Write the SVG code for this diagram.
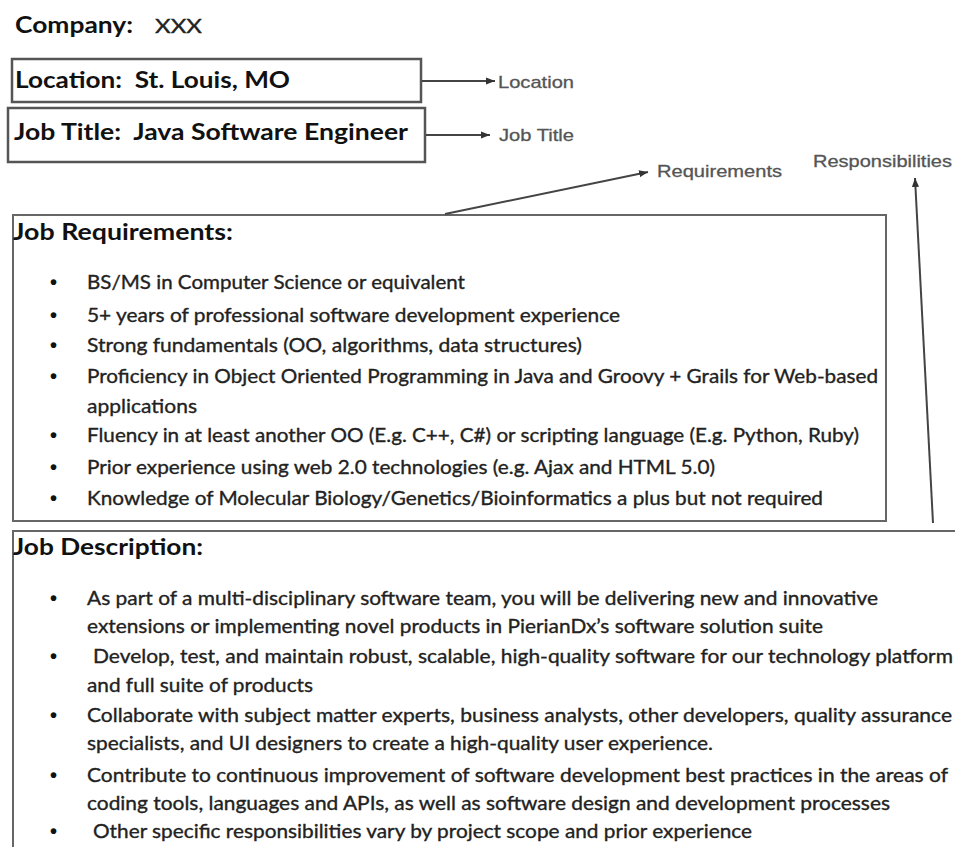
<svg xmlns="http://www.w3.org/2000/svg" width="955" height="847" viewBox="0 0 955 847">
<defs>
<marker id="ah" viewBox="0 0 10 10" refX="10" refY="5" markerWidth="9" markerHeight="9" markerUnits="userSpaceOnUse" orient="auto">
<path d="M0,1 L10,5 L0,9 Z" fill="#333"/>
</marker>
<style>
.box{fill:#fff;stroke:#555;stroke-width:2.5}
.box2{fill:#fff;stroke:#666;stroke-width:2}
.hb{font-family:Lato,"Open Sans","Liberation Sans",sans-serif;font-weight:bold;fill:#111;font-size:22px}
.bd{font-family:Lato,"Open Sans","Liberation Sans",sans-serif;fill:#222;stroke:#222;stroke-width:0.35;font-size:20px}
.bul{font-family:"Liberation Sans",sans-serif;fill:#111;font-weight:bold;font-size:20px}
.lbl{font-family:"Liberation Sans",Arial,sans-serif;fill:#555;stroke:#555;stroke-width:0.3;font-size:17px}
.cn{stroke:#444;stroke-width:2;fill:none;marker-end:url(#ah)}
</style>
</defs>
<rect width="955" height="847" fill="#fff"/>

<g id="company">
<text class="hb" x="15" y="33" textLength="118" lengthAdjust="spacingAndGlyphs">Company:</text>
<text class="bd" x="155" y="33" font-size="22" fill="#333" textLength="47" lengthAdjust="spacingAndGlyphs">XXX</text>
</g>

<g id="location">
<rect class="box" x="12" y="59" width="409" height="43"/>
<text class="hb" x="15" y="88" textLength="275" lengthAdjust="spacingAndGlyphs" xml:space="preserve">Location:  St. Louis, MO</text>
</g>

<g id="jobtitle">
<rect class="box" x="8" y="108" width="417" height="54"/>
<text class="hb" x="14" y="140" textLength="394" lengthAdjust="spacingAndGlyphs" xml:space="preserve">Job Title:  Java Software Engineer</text>
</g>

<g id="label-location"><text class="lbl" x="498" y="88" textLength="76" lengthAdjust="spacingAndGlyphs">Location</text></g>
<g id="label-jobtitle"><text class="lbl" x="499" y="141" textLength="75" lengthAdjust="spacingAndGlyphs">Job Title</text></g>
<g id="label-requirements"><text class="lbl" x="657" y="177" textLength="125" lengthAdjust="spacingAndGlyphs">Requirements</text></g>
<g id="label-responsibilities"><text class="lbl" x="813" y="167" textLength="139" lengthAdjust="spacingAndGlyphs">Responsibilities</text></g>

<g id="requirements">
<rect class="box2" x="13" y="215" width="873" height="306"/>
<text class="hb" x="13" y="240" textLength="220" lengthAdjust="spacingAndGlyphs">Job Requirements:</text>
<g class="bul">
<text x="50" y="289">•</text><text x="50" y="322">•</text><text x="50" y="352">•</text><text x="50" y="383">•</text>
<text x="50" y="442">•</text><text x="50" y="474">•</text><text x="50" y="505">•</text>
</g>
<text class="bd" x="87" y="289" textLength="378" lengthAdjust="spacingAndGlyphs">BS/MS in Computer Science or equivalent</text>
<text class="bd" x="87" y="322" textLength="533" lengthAdjust="spacingAndGlyphs">5+ years of professional software development experience</text>
<text class="bd" x="87" y="352" textLength="495" lengthAdjust="spacingAndGlyphs">Strong fundamentals (OO, algorithms, data structures)</text>
<text class="bd" x="87" y="383" textLength="791" lengthAdjust="spacingAndGlyphs">Proficiency in Object Oriented Programming in Java and Groovy + Grails for Web-based</text>
<text class="bd" x="87" y="413" textLength="110" lengthAdjust="spacingAndGlyphs">applications</text>
<text class="bd" x="87" y="442" textLength="772" lengthAdjust="spacingAndGlyphs">Fluency in at least another OO (E.g. C++, C#) or scripting language (E.g. Python, Ruby)</text>
<text class="bd" x="87" y="474" textLength="628" lengthAdjust="spacingAndGlyphs">Prior experience using web 2.0 technologies (e.g. Ajax and HTML 5.0)</text>
<text class="bd" x="87" y="505" textLength="736" lengthAdjust="spacingAndGlyphs">Knowledge of Molecular Biology/Genetics/Bioinformatics a plus but not required</text>
</g>

<g id="description">
<rect class="box2" x="13" y="531" width="960" height="340"/>
<text class="hb" x="13" y="555" textLength="190" lengthAdjust="spacingAndGlyphs">Job Description:</text>
<g class="bul">
<text x="50" y="605">•</text><text x="50" y="663">•</text><text x="50" y="722">•</text><text x="50" y="782">•</text><text x="50" y="838">•</text>
</g>
<text class="bd" x="87" y="605" textLength="791" lengthAdjust="spacingAndGlyphs">As part of a multi-disciplinary software team, you will be delivering new and innovative</text>
<text class="bd" x="87" y="633" textLength="736" lengthAdjust="spacingAndGlyphs">extensions or implementing novel products in PierianDx’s software solution suite</text>
<text class="bd" x="93" y="663" textLength="860" lengthAdjust="spacingAndGlyphs">Develop, test, and maintain robust, scalable, high-quality software for our technology platform</text>
<text class="bd" x="87" y="692" textLength="226" lengthAdjust="spacingAndGlyphs">and full suite of products</text>
<text class="bd" x="87" y="722" textLength="865" lengthAdjust="spacingAndGlyphs">Collaborate with subject matter experts, business analysts, other developers, quality assurance</text>
<text class="bd" x="87" y="750" textLength="626" lengthAdjust="spacingAndGlyphs">specialists, and UI designers to create a high-quality user experience.</text>
<text class="bd" x="87" y="782" textLength="861" lengthAdjust="spacingAndGlyphs">Contribute to continuous improvement of software development best practices in the areas of</text>
<text class="bd" x="87" y="810" textLength="803" lengthAdjust="spacingAndGlyphs">coding tools, languages and APIs, as well as software design and development processes</text>
<text class="bd" x="93" y="838" textLength="659" lengthAdjust="spacingAndGlyphs">Other specific responsibilities vary by project scope and prior experience</text>
</g>

<g id="connectors">
<line class="cn" x1="422" y1="81" x2="495" y2="81"/>
<line class="cn" x1="426" y1="135" x2="490" y2="135"/>
<line class="cn" x1="445" y1="214" x2="648" y2="172"/>
<line class="cn" x1="933" y1="523" x2="915" y2="178"/>
</g>
</svg>
